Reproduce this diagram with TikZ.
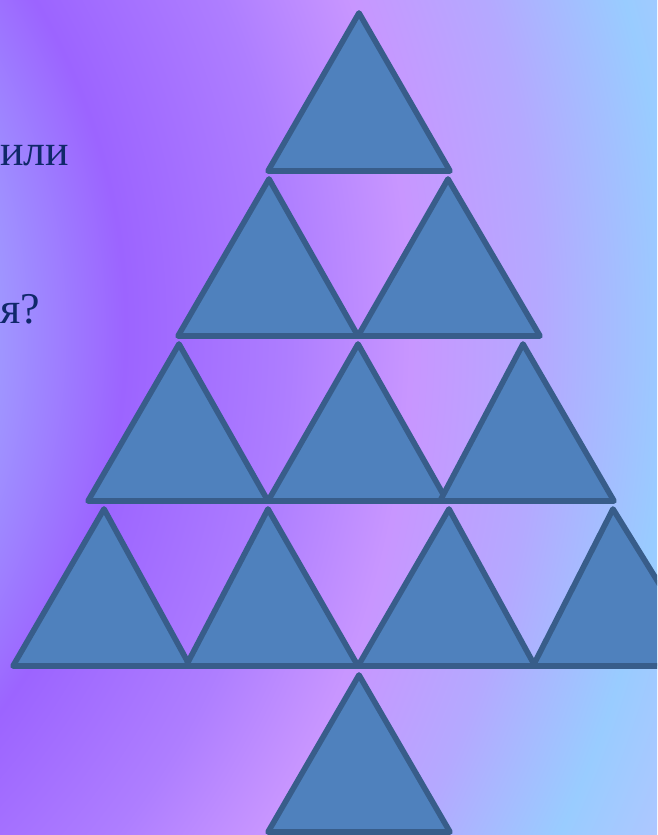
\documentclass[tikz,border=0pt]{standalone}
\usepackage{fontspec}
\setmainfont{Liberation Serif}
\usepackage{xcolor}
\usepackage{tikz}
\usetikzlibrary{
  positioning,
  calc,
}
\definecolor{trifill}{HTML}{4F81BD}
\definecolor{triedge}{HTML}{385D8A}
\definecolor{textnavy}{HTML}{10286A}
\definecolor{bgA}{HTML}{A8B2FF}
\definecolor{bgB}{HTML}{A0A2FF}
\definecolor{bgC}{HTML}{9C64FF}
\definecolor{bgD}{HTML}{AE7EFF}
\definecolor{bgE}{HTML}{C896FF}
\definecolor{bgF}{HTML}{B4A9FF}
\definecolor{bgG}{HTML}{99CCFF}
\definecolor{bgH}{HTML}{B2C6FF}
% rings round a centre far to the left of the slide
\pgfdeclareradialshading{slidebg}{\pgfpoint{0bp}{0bp}}{%
  color(0bp)=(bgA); color(8bp)=(bgA); color(9.4bp)=(bgB);
  color(12.4bp)=(bgC); color(15.6bp)=(bgD); color(17.9bp)=(bgE);
  color(20.4bp)=(bgF); color(22.9bp)=(bgG); color(25bp)=(bgH);
  color(50bp)=(bgH)}
\tikzset{
  tri/.style={draw=triedge, fill=trifill, line width=3.2pt, line join=round},
  words/.style={text=textnavy, inner sep=0pt, font=\fontsize{25}{30}\selectfont},
}

\begin{document}
\begin{tikzpicture}[x=0.02cm, y=-0.02cm]
  \useasboundingbox (0,0) rectangle (657,835);
  \clip (0,0) rectangle (657,835);
  \shade[shading=slidebg] (-1820,-970) rectangle (780,1630);
  % apex x / apex y / base left / base right / base y
  \foreach \ax/\ay/\bl/\br/\by in {
      359/13/268/450/171,
      269/179/178/358/336, 448/179/358/540/336,
      179/344/88/268/501, 358/344/268/447/501, 523/344/440/614/501,
      104/509/13/190/666, 268/509/186/358/666, 449/509/358/535/666, 613/509/533/710/666,
      359/675/268/450/832}
    \draw[tri] (\ax,\ay) -- (\br,\by) -- (\bl,\by) -- cycle;
  \node[words, anchor=base west] (ili) at (0,165) {или};
  \node[words, anchor=base west] (ya) at (0,323) {я?};
\end{tikzpicture}
\end{document}
